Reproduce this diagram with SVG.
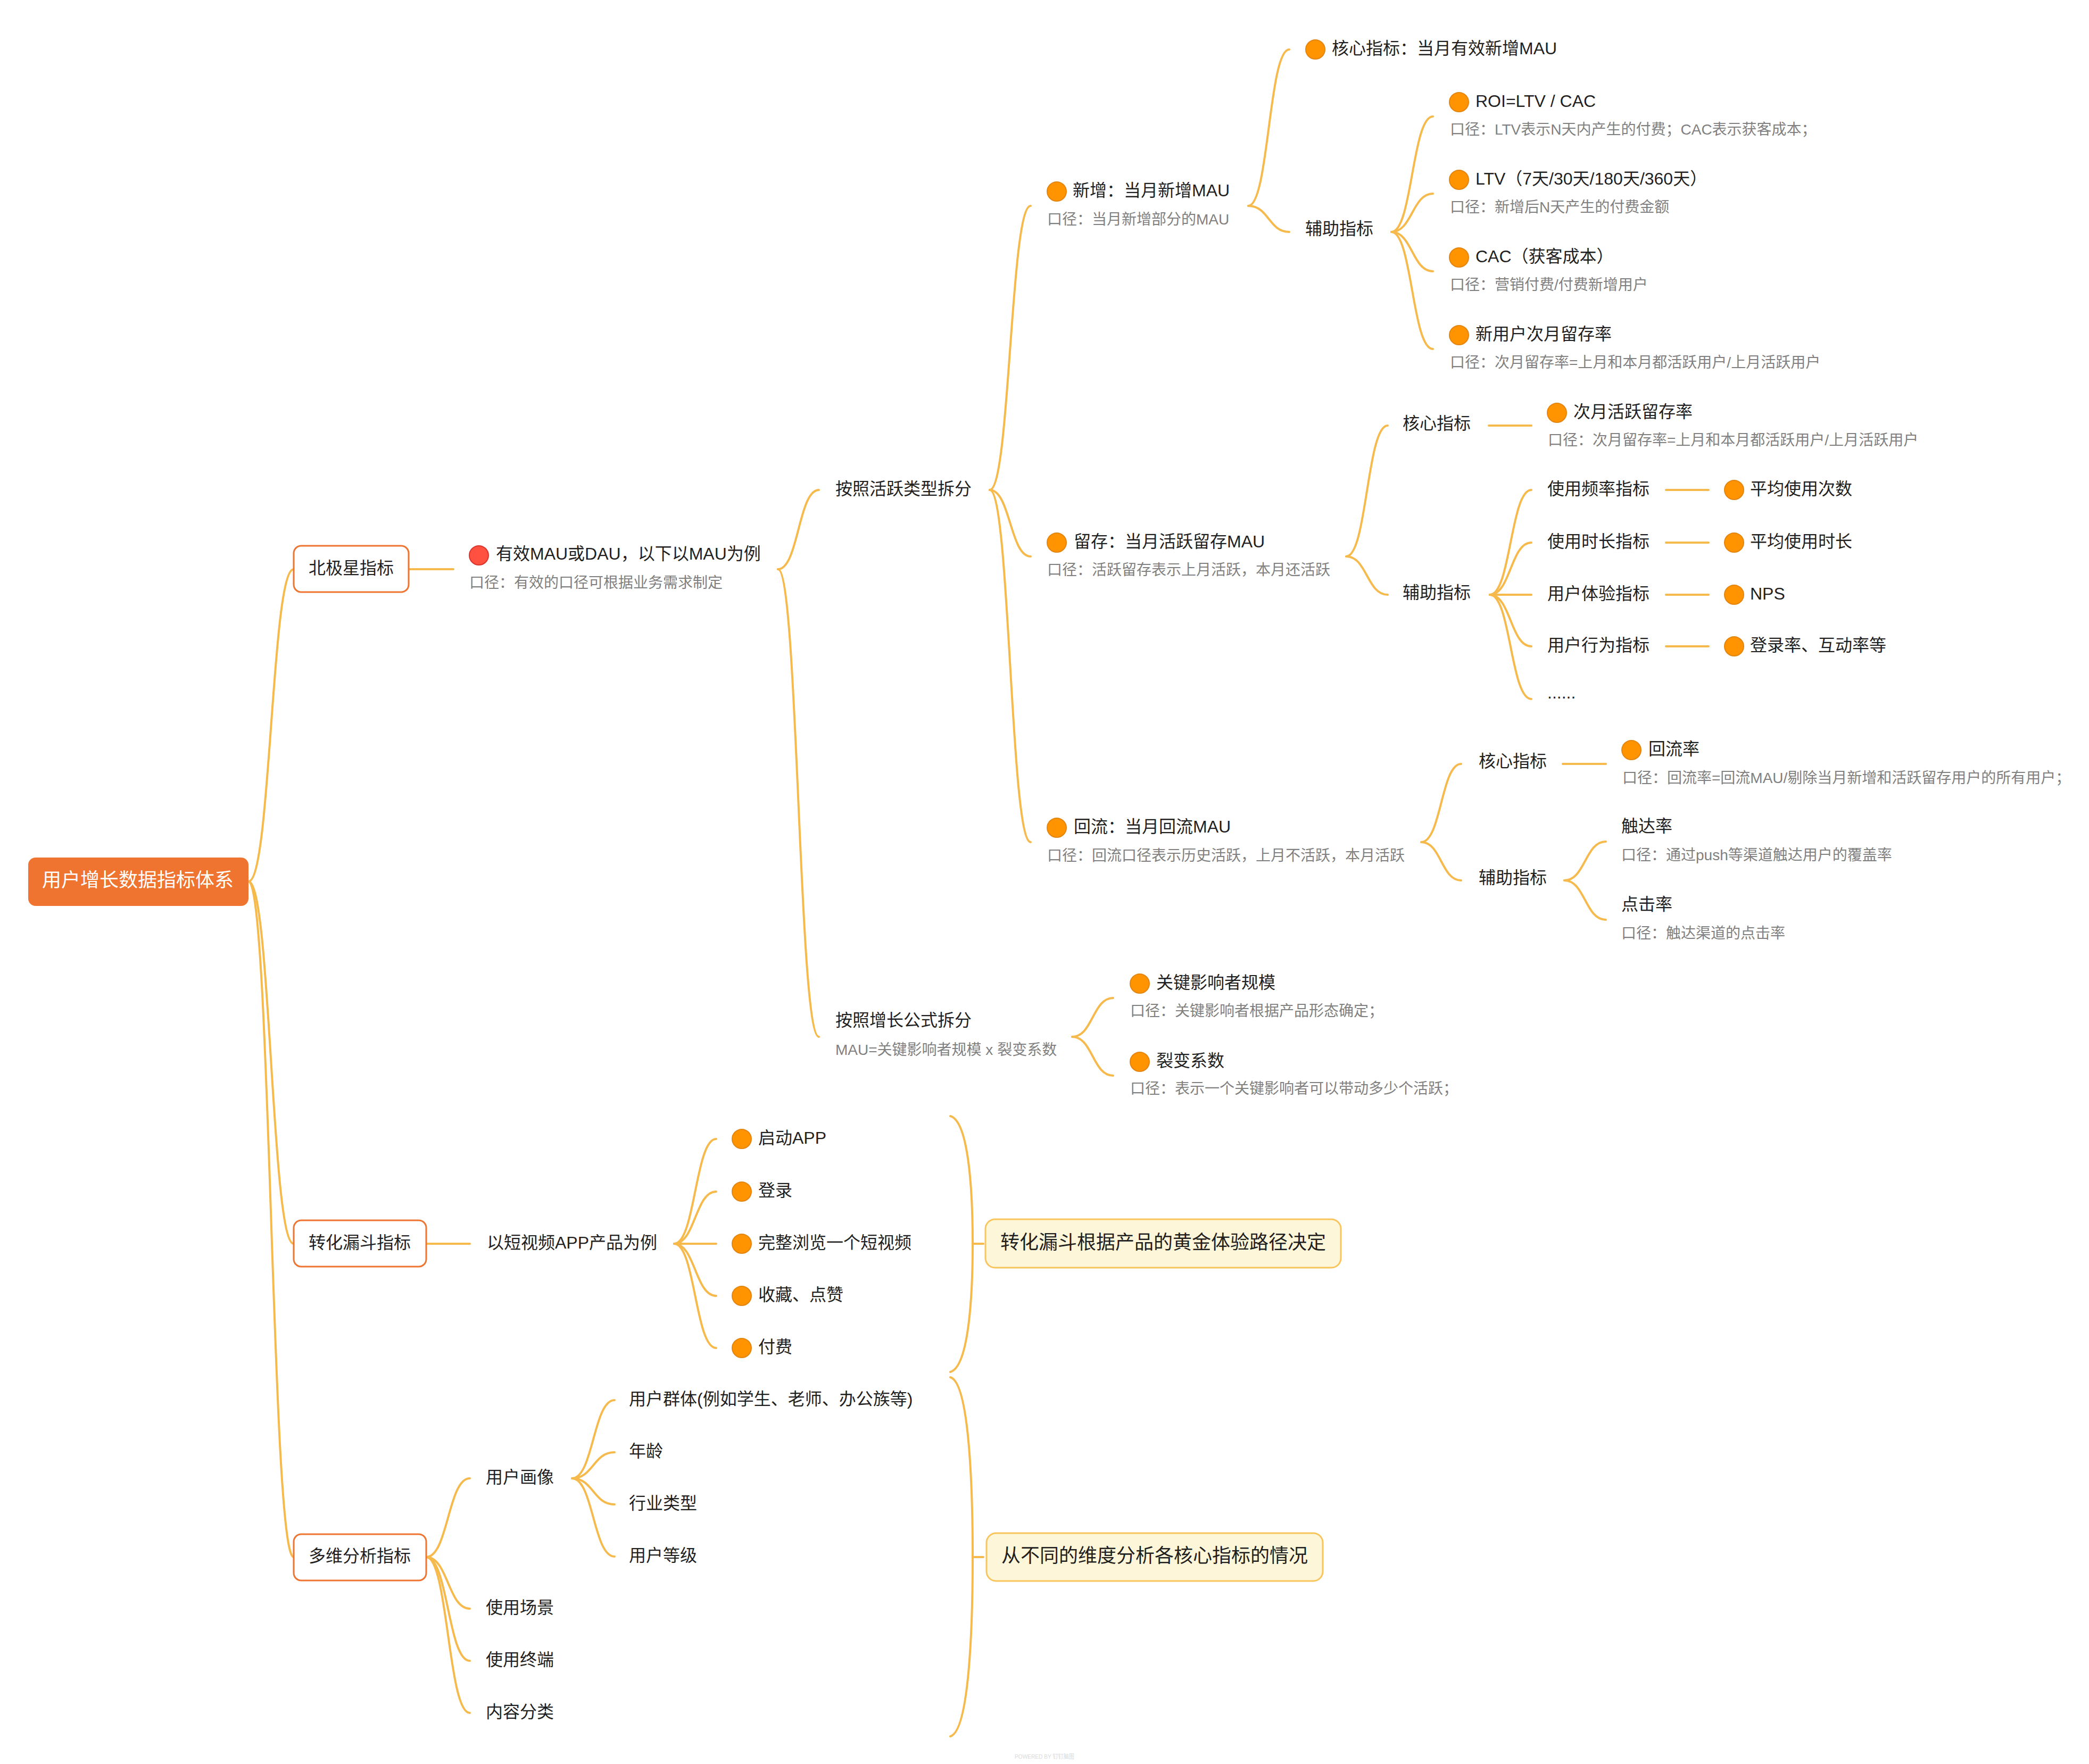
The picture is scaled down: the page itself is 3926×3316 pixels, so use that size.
<svg xmlns="http://www.w3.org/2000/svg" width="3926" height="3316" viewBox="0 0 3926 3316">
<style>
text{font-family:"Liberation Sans","Noto Sans CJK SC",sans-serif}
.lbl{font-size:32px;fill:#1f1f1f}
.sub{font-size:28px;fill:#808080}
.big{font-size:36px;fill:#1f1f1f}
.root{font-size:36px;fill:#ffffff}
.con{fill:none;stroke:#F6B94B;stroke-width:4;stroke-linecap:round}
.dot{fill:#FF9300;stroke:#E3850F;stroke-width:2}
.red{fill:#FF5040;stroke:#D9362B;stroke-width:2}
.box{fill:#ffffff;stroke:#EE7430;stroke-width:3}
.sum{fill:#FEF6D8;stroke:#F8C55C;stroke-width:3}
.wm{font-size:11px;fill:#d9d9d9}
</style>
<rect width="3926" height="3316" fill="#ffffff"/>
<g id="connectors">
<path class="con" d="M467 1657 C509.5 1657 509.5 1070 552 1070"/>
<path class="con" d="M467 1657 C509.5 1657 509.5 2338 552 2338"/>
<path class="con" d="M467 1657 C509.5 1657 509.5 2927 552 2927"/>
<path class="con" d="M768 1070 H852"/>
<path class="con" d="M1462 1070 C1500.5 1070 1500.5 921 1539 921"/>
<path class="con" d="M1462 1070 C1500.5 1070 1500.5 1949 1539 1949"/>
<path class="con" d="M1860 921 C1898.5 921 1898.5 387 1937 387"/>
<path class="con" d="M1860 921 C1898.5 921 1898.5 1046 1937 1046"/>
<path class="con" d="M1860 921 C1898.5 921 1898.5 1583 1937 1583"/>
<path class="con" d="M2346 387 C2384.5 387 2384.5 93 2423 93"/>
<path class="con" d="M2346 387 C2384.5 387 2384.5 436 2423 436"/>
<path class="con" d="M2615 436 C2654 436 2654 219 2693 219"/>
<path class="con" d="M2615 436 C2654 436 2654 364 2693 364"/>
<path class="con" d="M2615 436 C2654 436 2654 510 2693 510"/>
<path class="con" d="M2615 436 C2654 436 2654 656 2693 656"/>
<path class="con" d="M2530 1046 C2569 1046 2569 800 2608 800"/>
<path class="con" d="M2530 1046 C2569 1046 2569 1118 2608 1118"/>
<path class="con" d="M2798 800 H2878"/>
<path class="con" d="M2800 1118 C2839 1118 2839 921 2878 921"/>
<path class="con" d="M2800 1118 C2839 1118 2839 1020 2878 1020"/>
<path class="con" d="M2800 1118 H2878"/>
<path class="con" d="M2800 1118 C2839 1118 2839 1215 2878 1215"/>
<path class="con" d="M2800 1118 C2839 1118 2839 1314 2878 1314"/>
<path class="con" d="M3131 921 H3211"/>
<path class="con" d="M3131 1020 H3211"/>
<path class="con" d="M3131 1118 H3211"/>
<path class="con" d="M3131 1215 H3211"/>
<path class="con" d="M2671 1583 C2708.5 1583 2708.5 1436 2746 1436"/>
<path class="con" d="M2671 1583 C2708.5 1583 2708.5 1655 2746 1655"/>
<path class="con" d="M2937 1436 H3018"/>
<path class="con" d="M2940 1655 C2979 1655 2979 1582 3018 1582"/>
<path class="con" d="M2940 1655 C2979 1655 2979 1729 3018 1729"/>
<path class="con" d="M2015 1949 C2053.5 1949 2053.5 1876 2092 1876"/>
<path class="con" d="M2015 1949 C2053.5 1949 2053.5 2022 2092 2022"/>
<path class="con" d="M801 2338 H883"/>
<path class="con" d="M1267 2338 C1306.5 2338 1306.5 2141 1346 2141"/>
<path class="con" d="M1267 2338 C1306.5 2338 1306.5 2240 1346 2240"/>
<path class="con" d="M1267 2338 H1346"/>
<path class="con" d="M1267 2338 C1306.5 2338 1306.5 2436 1346 2436"/>
<path class="con" d="M1267 2338 C1306.5 2338 1306.5 2534 1346 2534"/>
<path class="con" d="M801 2927 C842 2927 842 2779 883 2779"/>
<path class="con" d="M801 2927 C842 2927 842 3024 883 3024"/>
<path class="con" d="M801 2927 C842 2927 842 3122 883 3122"/>
<path class="con" d="M801 2927 C842 2927 842 3220 883 3220"/>
<path class="con" d="M1075 2779 C1115 2779 1115 2632 1155 2632"/>
<path class="con" d="M1075 2779 C1115 2779 1115 2730 1155 2730"/>
<path class="con" d="M1075 2779 C1115 2779 1115 2828 1155 2828"/>
<path class="con" d="M1075 2779 C1115 2779 1115 2926 1155 2926"/>
<path class="con" d="M1786 2098 C1822 2108 1828 2250 1828 2338 C1828 2426 1822 2569 1786 2579"/>
<path class="con" d="M1828 2338 H1848"/>
<path class="con" d="M1786 2589 C1822 2599 1828 2800 1828 2927 C1828 3054 1822 3254 1786 3264"/>
<path class="con" d="M1828 2927 H1848"/>
</g>
<g id="root">
<rect x="53" y="1612" width="414" height="91" rx="14" fill="#EE7430"/>
<text class="root" x="259" y="1667" text-anchor="middle">用户增长数据指标体系</text>
</g>
<g id="n-beijixing">
<rect class="box" x="552" y="1026" width="216" height="87" rx="14"/>
<text class="lbl" x="660" y="1078.5" text-anchor="middle">北极星指标</text>
</g>
<g id="n-mau">
<circle class="red" cx="900" cy="1044" r="18"/>
<text class="lbl" x="932" y="1051.5">有效MAU或DAU，以下以MAU为例</text>
<text class="sub" x="882" y="1105">口径：有效的口径可根据业务需求制定</text>
</g>
<g id="n-huoyue">
<text class="lbl" x="1570" y="929.5">按照活跃类型拆分</text>
</g>
<g id="n-zengzhang">
<text class="lbl" x="1570" y="1928.5">按照增长公式拆分</text>
<text class="sub" x="1570" y="1983">MAU=关键影响者规模 x 裂变系数</text>
</g>
<g id="n-xinzeng">
<circle class="dot" cx="1986" cy="360" r="18"/>
<text class="lbl" x="2016" y="368.5">新增：当月新增MAU</text>
<text class="sub" x="1968" y="422">口径：当月新增部分的MAU</text>
</g>
<g id="n-xz-core">
<circle class="dot" cx="2472" cy="93" r="18"/>
<text class="lbl" x="2503" y="101.5">核心指标：当月有效新增MAU</text>
</g>
<g id="n-xz-aux">
<text class="lbl" x="2453" y="440.5">辅助指标</text>
</g>
<g id="n-roi">
<circle class="dot" cx="2742" cy="192" r="18"/>
<text class="lbl" x="2773" y="200.5">ROI=LTV / CAC</text>
<text class="sub" x="2725" y="253">口径：LTV表示N天内产生的付费；CAC表示获客成本；</text>
</g>
<g id="n-ltv">
<circle class="dot" cx="2742" cy="338" r="18"/>
<text class="lbl" x="2773" y="346.5">LTV（7天/30天/180天/360天）</text>
<text class="sub" x="2725" y="399">口径：新增后N天产生的付费金额</text>
</g>
<g id="n-cac">
<circle class="dot" cx="2742" cy="484" r="18"/>
<text class="lbl" x="2773" y="492.5">CAC（获客成本）</text>
<text class="sub" x="2725" y="545">口径：营销付费/付费新增用户</text>
</g>
<g id="n-newret">
<circle class="dot" cx="2742" cy="630" r="18"/>
<text class="lbl" x="2773" y="638.5">新用户次月留存率</text>
<text class="sub" x="2725" y="691">口径：次月留存率=上月和本月都活跃用户/上月活跃用户</text>
</g>
<g id="n-liucun">
<circle class="dot" cx="1986" cy="1020" r="18"/>
<text class="lbl" x="2018" y="1028.5">留存：当月活跃留存MAU</text>
<text class="sub" x="1968" y="1081">口径：活跃留存表示上月活跃，本月还活跃</text>
</g>
<g id="n-lc-core">
<text class="lbl" x="2636" y="806.5">核心指标</text>
</g>
<g id="n-lc-ret">
<circle class="dot" cx="2926" cy="776" r="18"/>
<text class="lbl" x="2957" y="784.5">次月活跃留存率</text>
<text class="sub" x="2909" y="837">口径：次月留存率=上月和本月都活跃用户/上月活跃用户</text>
</g>
<g id="n-lc-aux">
<text class="lbl" x="2636" y="1124.5">辅助指标</text>
</g>
<g id="n-freq">
<text class="lbl" x="2908" y="929.5">使用频率指标</text>
</g>
<g id="n-dur">
<text class="lbl" x="2908" y="1028.5">使用时长指标</text>
</g>
<g id="n-exp">
<text class="lbl" x="2908" y="1126.5">用户体验指标</text>
</g>
<g id="n-beh">
<text class="lbl" x="2908" y="1223.5">用户行为指标</text>
</g>
<g id="n-more">
<text class="lbl" x="2908" y="1313">......</text>
</g>
<g id="n-avgcnt">
<circle class="dot" cx="3259" cy="921" r="18"/>
<text class="lbl" x="3289" y="929.5">平均使用次数</text>
</g>
<g id="n-avgdur">
<circle class="dot" cx="3259" cy="1020" r="18"/>
<text class="lbl" x="3289" y="1028.5">平均使用时长</text>
</g>
<g id="n-nps">
<circle class="dot" cx="3259" cy="1118" r="18"/>
<text class="lbl" x="3289" y="1126.5">NPS</text>
</g>
<g id="n-login">
<circle class="dot" cx="3259" cy="1215" r="18"/>
<text class="lbl" x="3289" y="1223.5">登录率、互动率等</text>
</g>
<g id="n-huiliu">
<circle class="dot" cx="1986" cy="1556" r="18"/>
<text class="lbl" x="2018" y="1564.5">回流：当月回流MAU</text>
<text class="sub" x="1968" y="1618">口径：回流口径表示历史活跃，上月不活跃，本月活跃</text>
</g>
<g id="n-hl-core">
<text class="lbl" x="2779" y="1441.5">核心指标</text>
</g>
<g id="n-hl-rate">
<circle class="dot" cx="3066" cy="1410" r="18"/>
<text class="lbl" x="3098" y="1418.5">回流率</text>
<text class="sub" x="3049" y="1472">口径：回流率=回流MAU/剔除当月新增和活跃留存用户的所有用户；</text>
</g>
<g id="n-hl-aux">
<text class="lbl" x="2779" y="1660.5">辅助指标</text>
</g>
<g id="n-reach">
<text class="lbl" x="3047" y="1563.5">触达率</text>
<text class="sub" x="3047" y="1617">口径：通过push等渠道触达用户的覆盖率</text>
</g>
<g id="n-click">
<text class="lbl" x="3047" y="1710.5">点击率</text>
<text class="sub" x="3047" y="1764">口径：触达渠道的点击率</text>
</g>
<g id="n-kol">
<circle class="dot" cx="2142" cy="1849" r="18"/>
<text class="lbl" x="2173" y="1857.5">关键影响者规模</text>
<text class="sub" x="2124" y="1910">口径：关键影响者根据产品形态确定；</text>
</g>
<g id="n-fission">
<circle class="dot" cx="2142" cy="1996" r="18"/>
<text class="lbl" x="2173" y="2004.5">裂变系数</text>
<text class="sub" x="2124" y="2056">口径：表示一个关键影响者可以带动多少个活跃；</text>
</g>
<g id="n-funnel">
<rect class="box" x="552" y="2294" width="249" height="87" rx="14"/>
<text class="lbl" x="676" y="2346.5" text-anchor="middle">转化漏斗指标</text>
</g>
<g id="n-shortvideo">
<text class="lbl" x="915" y="2346.5">以短视频APP产品为例</text>
</g>
<g id="n-launch">
<circle class="dot" cx="1394" cy="2141" r="18"/>
<text class="lbl" x="1425" y="2149.5">启动APP</text>
</g>
<g id="n-signin">
<circle class="dot" cx="1394" cy="2240" r="18"/>
<text class="lbl" x="1425" y="2248.5">登录</text>
</g>
<g id="n-browse">
<circle class="dot" cx="1394" cy="2338" r="18"/>
<text class="lbl" x="1425" y="2346.5">完整浏览一个短视频</text>
</g>
<g id="n-fav">
<circle class="dot" cx="1394" cy="2436" r="18"/>
<text class="lbl" x="1425" y="2444.5">收藏、点赞</text>
</g>
<g id="n-pay">
<circle class="dot" cx="1394" cy="2534" r="18"/>
<text class="lbl" x="1425" y="2542.5">付费</text>
</g>
<g id="s-funnel">
<rect class="sum" x="1852" y="2292" width="668" height="91" rx="18"/>
<text class="big" x="1880" y="2348">转化漏斗根据产品的黄金体验路径决定</text>
</g>
<g id="n-multi">
<rect class="box" x="552" y="2884" width="249" height="87" rx="14"/>
<text class="lbl" x="676" y="2935.5" text-anchor="middle">多维分析指标</text>
</g>
<g id="n-portrait">
<text class="lbl" x="913" y="2787.5">用户画像</text>
</g>
<g id="n-scene">
<text class="lbl" x="913" y="3032.5">使用场景</text>
</g>
<g id="n-device">
<text class="lbl" x="913" y="3130.5">使用终端</text>
</g>
<g id="n-content">
<text class="lbl" x="913" y="3228.5">内容分类</text>
</g>
<g id="n-group">
<text class="lbl" x="1182" y="2640.5">用户群体(例如学生、老师、办公族等)</text>
</g>
<g id="n-age">
<text class="lbl" x="1182" y="2738.5">年龄</text>
</g>
<g id="n-industry">
<text class="lbl" x="1182" y="2836.5">行业类型</text>
</g>
<g id="n-level">
<text class="lbl" x="1182" y="2934.5">用户等级</text>
</g>
<g id="s-multi">
<rect class="sum" x="1854" y="2882" width="632" height="90" rx="18"/>
<text class="big" x="1882" y="2937">从不同的维度分析各核心指标的情况</text>
</g>
<text class="wm" x="1907" y="3306" textLength="112" lengthAdjust="spacingAndGlyphs">POWERED BY 钉钉脑图</text>
</svg>
